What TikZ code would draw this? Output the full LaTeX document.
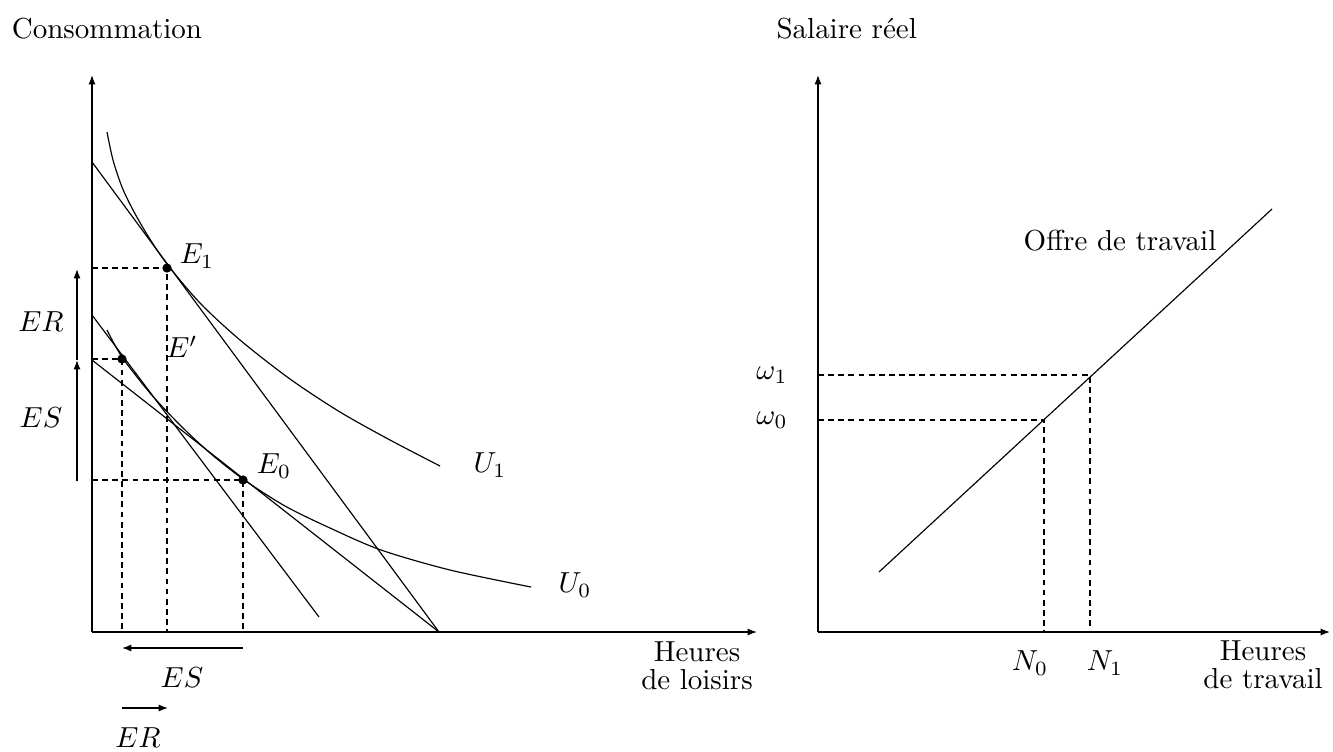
\documentclass[tikz,border=0pt]{standalone}
\usetikzlibrary{arrows.meta}
\begin{document}
\begin{tikzpicture}[x=0.345pt,y=-0.345pt,
  axis/.style={-{Latex[length=3.2pt,width=2.4pt]}},
  arr/.style={-{Latex[length=3.2pt,width=2.4pt]}},
  guide/.style={dash pattern=on 2pt off 1.5pt},
  dot/.style={circle,fill,inner sep=0pt,minimum size=3.2pt},
  lbl/.style={inner sep=0pt},
  twoline/.style={inner sep=0pt,align=center}]
\useasboundingbox (0,0) rectangle (1333,751);
% ---------- left panel ----------
\coordinate (O1) at (92,632);
\coordinate (Y1) at (92,75);
\coordinate (X1) at (757,632);
\draw[axis] (O1) -- (Y1);
\draw[axis] (O1) -- (X1);
\node[lbl,anchor=base] (cons) at (107,38) {Consommation};
\node[twoline] (loisirs) at (697,666) {Heures\\[-2.5pt]de loisirs};
% budget lines
\coordinate (A0) at (92,162);
\coordinate (B0) at (92,360);
\coordinate (C0) at (92,315);
\coordinate (AB1) at (439,632);
\coordinate (C1) at (319,617);
\draw (A0) -- (AB1);
\draw (B0) -- (AB1);
\draw (C0) -- (C1);
% indifference curves
\draw plot[smooth] coordinates {(107,132) (113,160) (122,187) (133,210) (148,236) (167,264) (200,303) (240,340) (290,379) (340,412) (390,440) (440,466)};
\draw plot[smooth] coordinates {(107,330) (122,357) (150,393) (180,425) (210,453) (243,479) (285,506) (330,528) (381,550) (450,570) (531,587)};
% equilibrium points
\node[dot] (E1) at (167,268) {};
\node[dot] (Ep) at (122,359) {};
\node[dot] (E0) at (243,480) {};
\coordinate (E1y) at (92,268);
\coordinate (E1x) at (167,632);
\coordinate (Epy) at (92,359);
\coordinate (Epx) at (122,632);
\coordinate (E0y) at (92,480);
\coordinate (E0x) at (243,632);
\draw[guide] (E1y) -- (E1.center) -- (E1x);
\draw[guide] (Epy) -- (Ep.center) -- (Epx);
\draw[guide] (E0y) -- (E0.center) -- (E0x);
\node[lbl] (lE1) at (197,256) {$E_1$};
\node[lbl] (lEp) at (182,347) {$E'$};
\node[lbl] (lE0) at (274,466) {$E_0$};
\node[lbl] (lU1) at (490,465) {$U_1$};
\node[lbl] (lU0) at (575,585) {$U_0$};
% effect arrows (vertical)
\coordinate (va) at (77,481);
\coordinate (vb) at (77,360);
\coordinate (vc) at (77,269);
\draw[arr] (va) -- (vb);
\draw[arr] (vb) -- (vc);
\node[lbl] (lERv) at (41,322) {$ER$};
\node[lbl] (lESv) at (41,418) {$ES$};
% effect arrows (horizontal)
\coordinate (ha) at (243,648);
\coordinate (hb) at (122,648);
\coordinate (hc) at (122,708);
\coordinate (hd) at (168,708);
\draw[arr] (ha) -- (hb);
\draw[arr] (hc) -- (hd);
\node[lbl] (lESh) at (182,678) {$ES$};
\node[lbl] (lERh) at (138,738) {$ER$};
% ---------- right panel ----------
\coordinate (O2) at (818,632);
\coordinate (Y2) at (818,75);
\coordinate (X2) at (1330,632);
\draw[axis] (O2) -- (Y2);
\draw[axis] (O2) -- (X2);
\node[lbl,anchor=base west] (sal) at (776,38) {Salaire r\'eel};
\node[twoline] (travail) at (1263,665) {Heures\\[-2.5pt]de travail};
\coordinate (S0) at (879,572);
\coordinate (S1) at (1272,209);
\draw (S0) -- (S1);
\node[lbl] (offre) at (1120,241) {Offre de travail};
\coordinate (P1) at (1090,375);
\coordinate (P0) at (1044,420);
\coordinate (w1) at (818,375);
\coordinate (w0) at (818,420);
\coordinate (n1) at (1090,632);
\coordinate (n0) at (1044,632);
\draw[guide] (w1) -- (P1) -- (n1);
\draw[guide] (w0) -- (P0) -- (n0);
\node[lbl] (lw1) at (772,375) {$\omega_1$};
\node[lbl] (lw0) at (772,420) {$\omega_0$};
\node[lbl] (lN0) at (1030,663) {$N_0$};
\node[lbl] (lN1) at (1105,663) {$N_1$};
\end{tikzpicture}
\end{document}
